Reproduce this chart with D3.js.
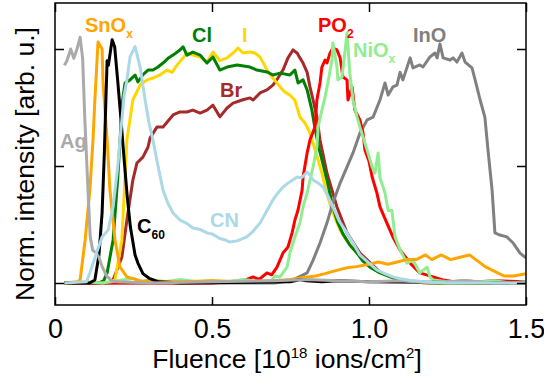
<!DOCTYPE html>
<html>
<head>
<meta charset="utf-8">
<script src="https://cdn.jsdelivr.net/npm/d3@7.9.0/dist/d3.min.js"></script>
<style>
  body { margin: 0; background: #fff; }
  svg { display: block; font-family: "Liberation Sans", Arial, sans-serif; }
</style>
</head>
<body>
<svg id="chart" width="544" height="383"></svg>
<script>
// Axis ticks
const xTicks = [0, 0.5, 1.0, 1.5];
const xTickLabels = ['0', '0.5', '1.0', '1.5'];
const yTicks = [0, 0.5, 1];

// Series values: [fluence, normalised intensity]
const ag = [[0.03,0.93],[0.038,0.95],[0.05,1.0],[0.06,0.96],[0.07,1.0],[0.08,1.05],[0.088,0.96],[0.095,0.7],[0.105,0.4],[0.112,0.2],[0.12,0.14],[0.13,0.13],[0.14,0.11],[0.15,0.07],[0.165,0.03],[0.18,0.01],[0.2,0.005],[0.3,0.0],[0.5,0.005],[0.7,0.01],[0.8,0.015],[0.9,0.01],[1.0,0.005],[1.1,0.01],[1.2,0.0],[1.3,0.01],[1.4,0.0],[1.5,0.0]];
const snox = [[0.03,0],[0.07,0.005],[0.08,0.013],[0.096,0.184],[0.111,0.397],[0.121,0.611],[0.127,0.782],[0.137,1.03],[0.15,1.0],[0.153,0.855],[0.166,0.611],[0.175,0.397],[0.191,0.184],[0.207,0.068],[0.229,0.026],[0.27,0.01],[0.4,0.005],[0.5,0.01],[0.6,0.005],[0.7,0.01],[0.75,0.015],[0.8,0.025],[0.83,0.03],[0.86,0.04],[0.9,0.055],[0.93,0.065],[0.96,0.07],[1.0,0.08],[1.03,0.09],[1.06,0.08],[1.09,0.09],[1.12,0.1],[1.15,0.1],[1.18,0.12],[1.2,0.1],[1.23,0.12],[1.26,0.1],[1.29,0.11],[1.32,0.12],[1.34,0.1],[1.37,0.07],[1.4,0.05],[1.43,0.03],[1.46,0.03],[1.5,0.04]];
const c60 = [[0.03,0],[0.11,0],[0.127,0.013],[0.14,0.12],[0.15,0.3],[0.157,0.55],[0.162,0.78],[0.166,0.95],[0.17,0.93],[0.182,1.04],[0.19,1.01],[0.2,0.86],[0.21,0.7],[0.22,0.53],[0.23,0.37],[0.24,0.24],[0.255,0.12],[0.264,0.085],[0.28,0.04],[0.3,0.02],[0.33,0.005],[0.4,0],[0.75,0.005],[0.78,0.015],[0.8,0.01],[0.85,0.005],[0.9,0.01],[1.0,0.005],[1.5,0]];
const cn = [[0.03,0],[0.1,0.005],[0.111,0.043],[0.13,0.12],[0.15,0.197],[0.169,0.226],[0.185,0.325],[0.2,0.5],[0.207,0.611],[0.22,0.8],[0.229,0.868],[0.239,0.966],[0.255,1.01],[0.271,0.923],[0.287,0.782],[0.3,0.68],[0.312,0.611],[0.325,0.52],[0.344,0.397],[0.36,0.34],[0.376,0.299],[0.398,0.269],[0.42,0.255],[0.439,0.235],[0.46,0.23],[0.484,0.214],[0.5,0.21],[0.525,0.19],[0.54,0.185],[0.557,0.175],[0.58,0.18],[0.611,0.197],[0.63,0.22],[0.653,0.256],[0.675,0.31],[0.694,0.355],[0.71,0.385],[0.726,0.41],[0.745,0.43],[0.771,0.453],[0.785,0.45],[0.803,0.474],[0.812,0.46],[0.822,0.44],[0.835,0.43],[0.854,0.41],[0.87,0.37],[0.885,0.325],[0.905,0.265],[0.93,0.214],[0.95,0.17],[0.971,0.12],[1.0,0.085],[1.025,0.056],[1.05,0.04],[1.076,0.026],[1.1,0.018],[1.13,0.012],[1.17,0.006],[1.2,0.003],[1.25,0],[1.5,0]];
const cl = [[0.03,0],[0.14,0],[0.155,0.01],[0.166,0.043],[0.185,0.184],[0.2,0.45],[0.207,0.61],[0.215,0.78],[0.223,0.855],[0.239,0.868],[0.255,0.889],[0.264,0.859],[0.28,0.89],[0.296,0.91],[0.312,0.91],[0.328,0.923],[0.344,0.94],[0.36,0.96],[0.376,0.974],[0.398,0.996],[0.408,1.009],[0.42,0.974],[0.439,0.987],[0.462,0.974],[0.484,0.94],[0.503,0.966],[0.525,0.91],[0.548,0.923],[0.58,0.932],[0.621,0.923],[0.643,0.91],[0.675,0.902],[0.694,0.889],[0.717,0.897],[0.748,0.889],[0.764,0.91],[0.774,0.855],[0.79,0.868],[0.803,0.825],[0.818,0.74],[0.828,0.66],[0.84,0.58],[0.855,0.5],[0.866,0.44],[0.885,0.325],[0.9,0.26],[0.917,0.21],[0.94,0.16],[0.962,0.128],[0.98,0.095],[1.003,0.068],[1.035,0.043],[1.07,0.025],[1.1,0.015],[1.13,0.008],[1.16,0.004],[1.2,0],[1.5,0]];
const iod = [[0.03,0],[0.17,0],[0.191,0.013],[0.213,0.184],[0.229,0.611],[0.248,0.782],[0.271,0.846],[0.293,0.868],[0.312,0.876],[0.334,0.889],[0.357,0.91],[0.373,0.9],[0.389,0.932],[0.408,0.962],[0.42,0.983],[0.439,0.974],[0.462,0.966],[0.484,0.944],[0.503,0.987],[0.525,0.95],[0.548,0.962],[0.567,0.983],[0.583,1.004],[0.599,0.983],[0.621,0.987],[0.637,0.983],[0.653,0.966],[0.662,0.944],[0.675,0.91],[0.694,0.876],[0.717,0.838],[0.732,0.816],[0.748,0.803],[0.764,0.782],[0.78,0.709],[0.796,0.684],[0.812,0.641],[0.828,0.57],[0.85,0.47],[0.866,0.38],[0.885,0.3],[0.91,0.22],[0.93,0.18],[0.96,0.13],[0.994,0.085],[1.035,0.043],[1.07,0.025],[1.1,0.015],[1.14,0.006],[1.18,0],[1.5,0]];
const br = [[0.03,0],[0.17,0],[0.185,0.013],[0.213,0.111],[0.229,0.269],[0.248,0.44],[0.261,0.513],[0.28,0.538],[0.296,0.58],[0.303,0.62],[0.325,0.667],[0.344,0.667],[0.376,0.718],[0.398,0.731],[0.42,0.731],[0.439,0.739],[0.462,0.726],[0.484,0.739],[0.503,0.76],[0.525,0.71],[0.548,0.748],[0.567,0.769],[0.596,0.782],[0.621,0.791],[0.631,0.782],[0.653,0.812],[0.675,0.825],[0.694,0.846],[0.71,0.876],[0.726,0.91],[0.742,0.962],[0.758,0.996],[0.771,0.983],[0.78,0.962],[0.79,0.94],[0.803,0.9],[0.812,0.838],[0.822,0.782],[0.834,0.709],[0.844,0.611],[0.866,0.47],[0.898,0.325],[0.93,0.214],[0.971,0.128],[1.035,0.047],[1.08,0.02],[1.12,0.01],[1.18,0],[1.5,0]];
const po2 = [[0.03,0],[0.5,0],[0.55,0.005],[0.6,0.01],[0.631,0.026],[0.65,0.015],[0.675,0.043],[0.69,0.035],[0.707,0.068],[0.726,0.128],[0.742,0.154],[0.755,0.214],[0.764,0.269],[0.774,0.312],[0.787,0.397],[0.79,0.453],[0.803,0.556],[0.812,0.611],[0.828,0.667],[0.834,0.782],[0.844,0.855],[0.85,0.923],[0.86,0.953],[0.866,0.94],[0.876,0.983],[0.885,1.004],[0.898,0.996],[0.908,0.962],[0.917,0.88],[0.93,0.868],[0.933,0.782],[0.946,0.838],[0.955,0.739],[0.971,0.697],[0.981,0.641],[0.987,0.568],[1.0,0.52],[1.01,0.453],[1.025,0.385],[1.035,0.325],[1.057,0.256],[1.076,0.197],[1.099,0.141],[1.131,0.085],[1.162,0.043],[1.204,0.026],[1.236,0.013],[1.27,0.005],[1.3,0.01],[1.35,0.005],[1.4,0.01],[1.5,0.005]];
const niox = [[0.03,0],[0.1,0.005],[0.15,0.0],[0.2,0.01],[0.25,0.02],[0.28,0.005],[0.3,0.015],[0.35,0.005],[0.4,0.015],[0.45,0.005],[0.5,0.01],[0.55,0.005],[0.6,0.015],[0.65,0.005],[0.69,0.01],[0.7,0.03],[0.717,0.026],[0.739,0.068],[0.748,0.128],[0.764,0.197],[0.78,0.256],[0.79,0.325],[0.803,0.385],[0.812,0.44],[0.822,0.496],[0.834,0.581],[0.838,0.667],[0.85,0.739],[0.86,0.795],[0.869,0.855],[0.882,0.953],[0.885,1.026],[0.898,0.923],[0.901,0.868],[0.914,0.88],[0.924,0.996],[0.93,1.068],[0.939,0.897],[0.949,0.782],[0.962,0.709],[0.971,0.667],[0.994,0.568],[1.01,0.496],[1.019,0.47],[1.029,0.556],[1.035,0.45],[1.051,0.385],[1.061,0.31],[1.073,0.31],[1.083,0.197],[1.099,0.141],[1.121,0.085],[1.14,0.098],[1.162,0.043],[1.185,0.068],[1.194,0.026],[1.204,0.013],[1.25,0.005],[1.3,0.01],[1.35,0.005],[1.4,0.01],[1.45,0.0],[1.5,0.005]];
const ino = [[0.03,0],[0.7,0.0],[0.758,0.013],[0.803,0.043],[0.822,0.098],[0.844,0.171],[0.866,0.256],[0.885,0.342],[0.908,0.427],[0.93,0.496],[0.949,0.556],[0.971,0.64],[0.994,0.697],[1.013,0.709],[1.035,0.782],[1.051,0.855],[1.061,0.803],[1.076,0.838],[1.089,0.846],[1.099,0.9],[1.108,0.868],[1.131,0.962],[1.14,0.919],[1.162,0.932],[1.172,0.923],[1.194,0.966],[1.21,0.983],[1.217,0.962],[1.226,1.022],[1.236,0.962],[1.258,0.953],[1.268,0.962],[1.28,0.944],[1.296,0.983],[1.306,0.944],[1.328,0.919],[1.338,0.868],[1.354,0.782],[1.369,0.709],[1.379,0.568],[1.392,0.397],[1.401,0.214],[1.417,0.205],[1.439,0.197],[1.459,0.171],[1.481,0.128],[1.5,0.107]];

// Drawing order (bottom first) and colours
const series = [
  { name: 'Br', data: br, color: '#a52a2a' },
  { name: 'I', data: iod, color: '#ffd700' },
  { name: 'Cl', data: cl, color: '#008000' },
  { name: 'InO', data: ino, color: '#808080' },
  { name: 'PO2', data: po2, color: '#ff0000' },
  { name: 'NiOx', data: niox, color: '#90ee90' },
  { name: 'SnOx', data: snox, color: '#ffa500' },
  { name: 'C60', data: c60, color: '#000000' },
  { name: 'Ag', data: ag, color: '#aaaaaa' },
  { name: 'CN', data: cn, color: '#add8e6' }
];

// In-plot labels: main text, optional subscript
const labels = [
  { text: 'SnO', sub: 'x', x: 85, y: 32, color: '#ffa500' },
  { text: 'Cl', x: 192, y: 42, color: '#008000' },
  { text: 'I', x: 242, y: 42, color: '#ffd700' },
  { text: 'Br', x: 220, y: 97, color: '#a52a2a' },
  { text: 'PO', sub: '2', x: 318, y: 32, color: '#ff0000' },
  { text: 'NiO', sub: 'x', x: 353, y: 57, color: '#90ee90' },
  { text: 'InO', x: 413, y: 42, color: '#808080' },
  { text: 'CN', x: 210, y: 227, color: '#add8e6' },
  { text: 'C', sub: '60', x: 137, y: 233, color: '#000000' },
  { text: 'Ag', x: 60, y: 148, color: '#aaaaaa' }
];

const plot = { left: 55, right: 526, top: 3, bottom: 305 };
const svg = d3.select('#chart');

const x = d3.scaleLinear().domain([0, 1.5]).range([plot.left, plot.right]);
// y: 0 sits at 283px, 1 at 49px
const y = d3.scaleLinear().domain([0, 1]).range([283, 49]);

svg.append('defs').append('clipPath').attr('id', 'clip')
  .append('rect')
  .attr('x', plot.left).attr('y', plot.top)
  .attr('width', plot.right - plot.left).attr('height', plot.bottom - plot.top);

const line = d3.line().x(d => x(d[0])).y(d => y(d[1]));

svg.append('g').attr('clip-path', 'url(#clip)')
  .selectAll('path')
  .data(series)
  .enter()
  .append('path')
  .attr('d', d => line(d.data))
  .attr('fill', 'none')
  .attr('stroke', d => d.color)
  .attr('stroke-width', 3)
  .attr('stroke-linejoin', 'round');

// Inward ticks on all four sides
svg.append('g').attr('transform', `translate(0,${plot.bottom})`)
  .call(d3.axisBottom(x).tickValues(xTicks).tickSize(-8).tickPadding(14)
    .tickFormat((d, i) => xTickLabels[i]))
  .call(g => g.select('.domain').remove())
  .call(g => g.selectAll('line').attr('stroke-width', 1.5))
  .call(g => g.selectAll('text').attr('font-size', 27).attr('font-family', '"Liberation Sans", Arial, sans-serif').attr('fill', '#000'));

svg.append('g').attr('transform', `translate(0,${plot.top})`)
  .call(d3.axisTop(x).tickValues(xTicks).tickSize(-9).tickFormat(''))
  .call(g => g.select('.domain').remove())
  .call(g => g.selectAll('line').attr('stroke-width', 1.5));

svg.append('g').attr('transform', `translate(${plot.left},0)`)
  .call(d3.axisLeft(y).tickValues(yTicks).tickSize(-9).tickFormat(''))
  .call(g => g.select('.domain').remove())
  .call(g => g.selectAll('line').attr('stroke-width', 1.5));

svg.append('g').attr('transform', `translate(${plot.right},0)`)
  .call(d3.axisRight(y).tickValues(yTicks).tickSize(-9).tickFormat(''))
  .call(g => g.select('.domain').remove())
  .call(g => g.selectAll('line').attr('stroke-width', 1.5));

// Frame
svg.append('rect')
  .attr('x', plot.left).attr('y', plot.top)
  .attr('width', plot.right - plot.left).attr('height', plot.bottom - plot.top)
  .attr('fill', 'none').attr('stroke', '#000').attr('stroke-width', 1.5);

// Labels
labels.forEach(l => {
  const t = svg.append('text')
    .attr('x', l.x).attr('y', l.y)
    .attr('fill', l.color)
    .attr('font-size', 20)
    .attr('font-weight', 'bold');
  t.append('tspan').text(l.text);
  if (l.sub) {
    t.append('tspan').attr('dy', 6).attr('font-size', 12).text(l.sub);
  }
});

// Axis titles
const xTitle = svg.append('text')
  .attr('x', 287).attr('y', 368)
  .attr('text-anchor', 'middle')
  .attr('font-size', 26.5);
xTitle.append('tspan').text('Fluence [10');
xTitle.append('tspan').attr('dy', -10).attr('font-size', 15).text('18');
xTitle.append('tspan').attr('dy', 10).text(' ions/cm');
xTitle.append('tspan').attr('dy', -10).attr('font-size', 15).text('2');
xTitle.append('tspan').attr('dy', 10).text(']');

svg.append('text')
  .attr('transform', 'translate(34,164) rotate(-90)')
  .attr('text-anchor', 'middle')
  .attr('font-size', 26.5)
  .text('Norm. intensity [arb. u.]');
</script>
</body>
</html>
